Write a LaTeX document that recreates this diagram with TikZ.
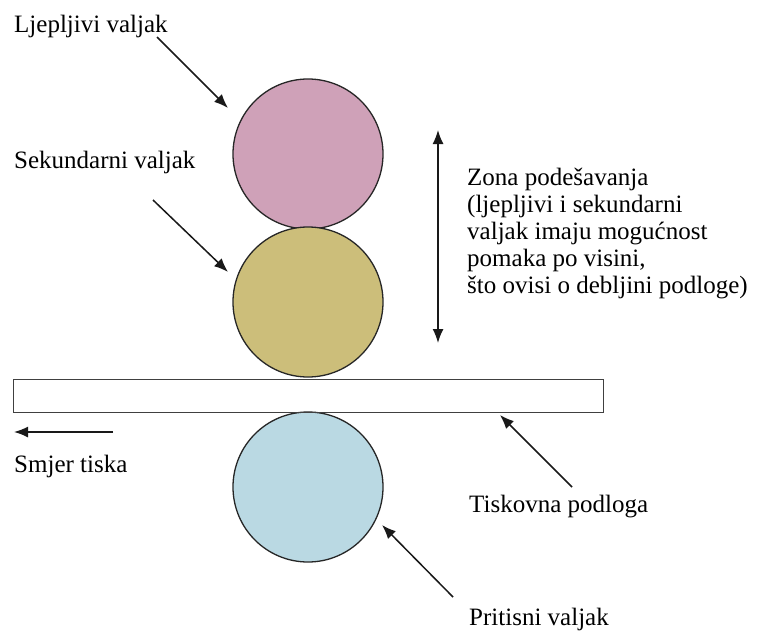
\documentclass[tikz,border=0pt]{standalone}
\usepackage{fontspec}
\setmainfont{Liberation Serif}
\usetikzlibrary{arrows.meta}
\definecolor{rollpink}{RGB}{207,161,184}
\definecolor{rollolive}{RGB}{204,190,122}
\definecolor{rollblue}{RGB}{186,217,227}
\tikzset{
	roller/.style={circle, draw=black!85, line width=1.3pt, minimum size=150pt, inner sep=0pt},
	lbl/.style={anchor=base west, inner sep=0pt, font=\fontsize{25}{27}\selectfont},
	tip/.style={Latex[length=14pt,width=11pt]},
	ptr/.style={-{Latex[length=14pt,width=11pt]}, line width=1.5pt, black!90},
}
\begin{document}
\begin{tikzpicture}[x=1pt,y=-1pt]
	\useasboundingbox (0,0) rectangle (760,635);
	% rollers
	\node[roller, fill=rollpink] (glue) at (308,154) {};
	\node[roller, fill=rollolive] (second) at (308,302) {};
	\node[roller, fill=rollblue] (press) at (308,487) {};
	% substrate
	\node[draw=black!75, line width=1.3pt, minimum width=590pt, minimum height=33pt, inner sep=0pt, anchor=north west] (sub) at (13,379) {};
	
	% labels
	\node[lbl] (glue lbl) at (14,32) {Ljepljivi valjak};
	\node[lbl] (second lbl) at (14,168) {Sekundarni valjak};
	\node[lbl] (dir lbl) at (14,472) {Smjer tiska};
	\node[lbl] (sub lbl) at (469,512) {Tiskovna podloga};
	\node[lbl] (press lbl) at (469,625) {Pritisni valjak};
	\node[lbl, anchor=north west, align=left] (zone lbl) at (467,168) {Zona podešavanja\\(ljepljivi i sekundarni\\valjak imaju mogućnost\\pomaka po visini,\\što ovisi o debljini podloge)};
	
	% arrow ends
	\coordinate (glue tail) at (157,37);
	\coordinate (glue tip) at (228,108);
	\coordinate (second tail) at (153,200);
	\coordinate (second tip) at (228,272);
	\coordinate (zone top) at (438,130);
	\coordinate (zone bot) at (438,343);
	\coordinate (dir tail) at (113,432);
	\coordinate (dir tip) at (14,432);
	\coordinate (sub tail) at (572,487);
	\coordinate (sub tip) at (500,415);
	\coordinate (press tail) at (453,597);
	\coordinate (press tip) at (382,525);
	
	% arrows
	\draw[ptr] (glue tail) -- (glue tip);
	\draw[ptr] (second tail) -- (second tip);
	\draw[ptr, {Latex[length=14pt,width=11pt]}-{Latex[length=14pt,width=11pt]}] (zone top) -- (zone bot);
	\draw[ptr] (dir tail) -- (dir tip);
	\draw[ptr] (sub tail) -- (sub tip);
	\draw[ptr] (press tail) -- (press tip);
\end{tikzpicture}
\end{document}
